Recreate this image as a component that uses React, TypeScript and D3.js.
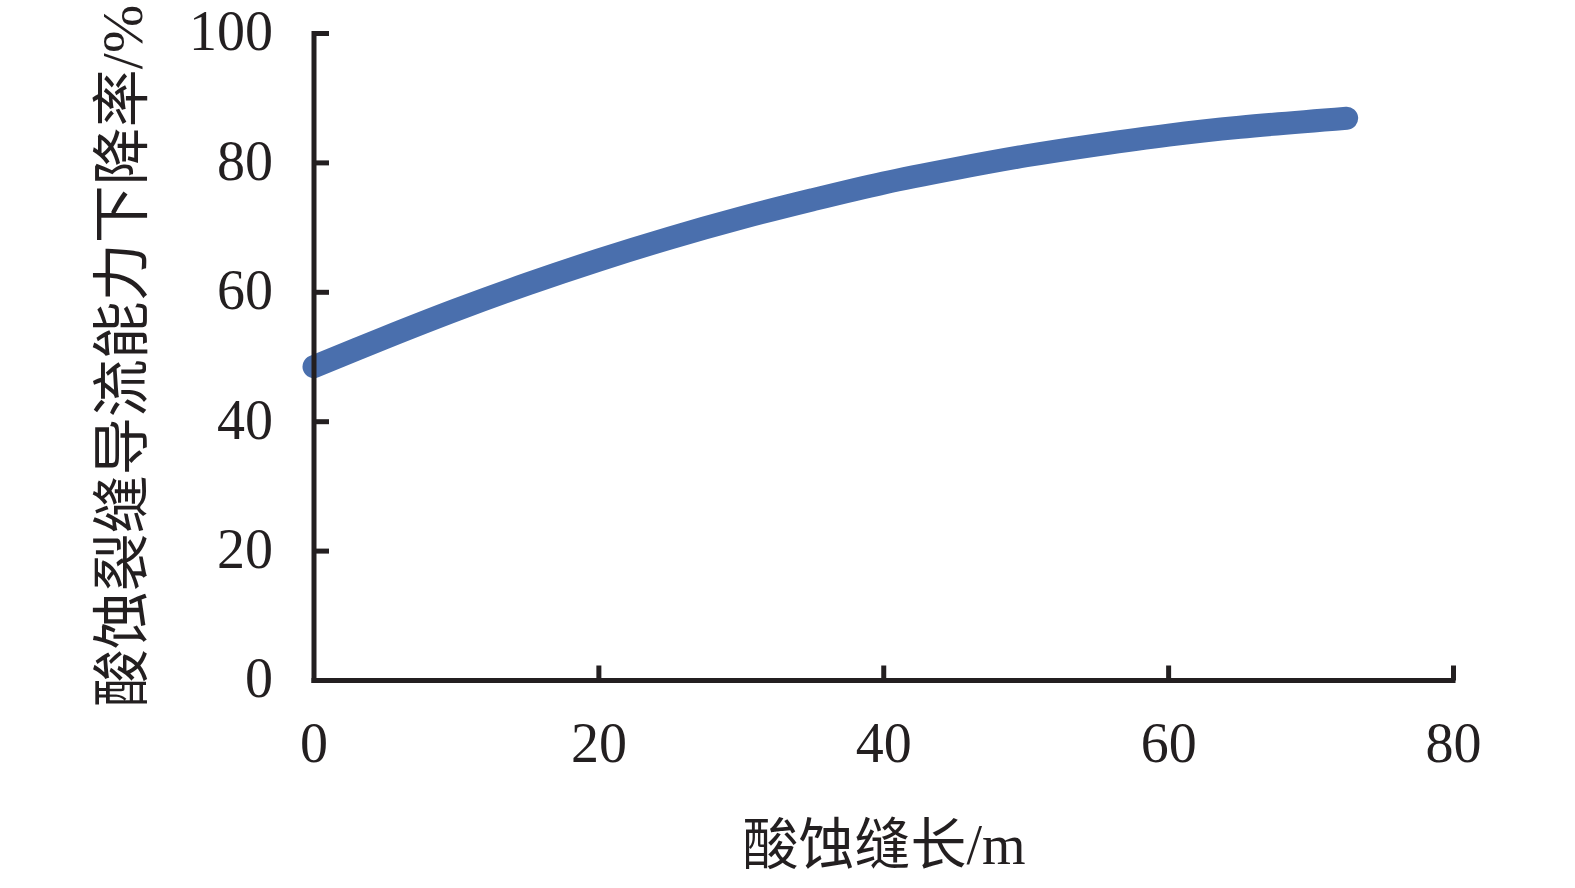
import React from "react";
import * as d3 from "d3";

const xValues = [0, 5, 10, 15, 20, 25, 30, 35, 40, 45, 50, 55, 60, 65, 72.5];
const yValues = [48.5, 53, 57.3, 61.3, 65, 68.4, 71.5, 74.3, 76.9, 79.1, 81.1, 82.8, 84.3, 85.5, 86.9];
const xTicks = [0, 20, 40, 60, 80];
const yTicks = [0, 20, 40, 60, 80, 100];
const xTitle = "酸蚀缝长/m";
const yTitle = "酸蚀裂缝导流能力下降率/%";

const W = 1575;
const H = 888;
const FONT = "'Liberation Serif', 'Times New Roman', 'Noto Sans CJK SC', serif";

export default function App() {
  const x = d3.scaleLinear().domain([0, 80]).range([314, 1453.5]);
  const y = d3.scaleLinear().domain([0, 100]).range([680.5, 33.5]);
  const pts: [number, number][] = xValues.map((v, i) => [v, yValues[i]]);
  const line = d3
    .line<[number, number]>()
    .x((d) => x(d[0]))
    .y((d) => y(d[1]))
    .curve(d3.curveCatmullRom);
  const axisColor = "#231f20";
  return (
    <svg
      width={W}
      height={H}
      style={{ position: "absolute", left: 0, top: 0, background: "#fff" }}
      fontFamily={FONT}
    >
      <rect width={W} height={H} fill="#fff" />
      <path
        d={line(pts) || ""}
        fill="none"
        stroke="#4a6fad"
        strokeWidth={23}
        strokeLinecap="round"
        strokeLinejoin="round"
      />
      <line x1={x(0)} x2={x(0)} y1={y(100) - 2.5} y2={y(0) + 2.5} stroke={axisColor} strokeWidth={5} />
      <line x1={x(0) - 2.5} x2={x(80) + 2} y1={y(0)} y2={y(0)} stroke={axisColor} strokeWidth={5} />
      {yTicks.map((t) => (
        <g key={"y" + t}>
          {t > 0 && (
            <line x1={x(0)} x2={x(0) + 15} y1={y(t)} y2={y(t)} stroke={axisColor} strokeWidth={5} />
          )}
          <text x={273} y={y(t)} dy="0.3em" textAnchor="end" fontSize={56} fill={axisColor}>
            {t}
          </text>
        </g>
      ))}
      {xTicks.map((t) => (
        <g key={"x" + t}>
          {t > 0 && (
            <line x1={x(t)} x2={x(t)} y1={y(0)} y2={y(0) - 15} stroke={axisColor} strokeWidth={5} />
          )}
          <text x={x(t)} y={762} textAnchor="middle" fontSize={56} fill={axisColor}>
            {t}
          </text>
        </g>
      ))}
      <text x={884} y={864} textAnchor="middle" fontSize={56} fill={axisColor}>
        {xTitle}
      </text>
      <text
        transform={`translate(142, 356) rotate(-90)`}
        textAnchor="middle"
        fontSize={58}
        fill={axisColor}
      >
        {yTitle}
      </text>
    </svg>
  );
}
